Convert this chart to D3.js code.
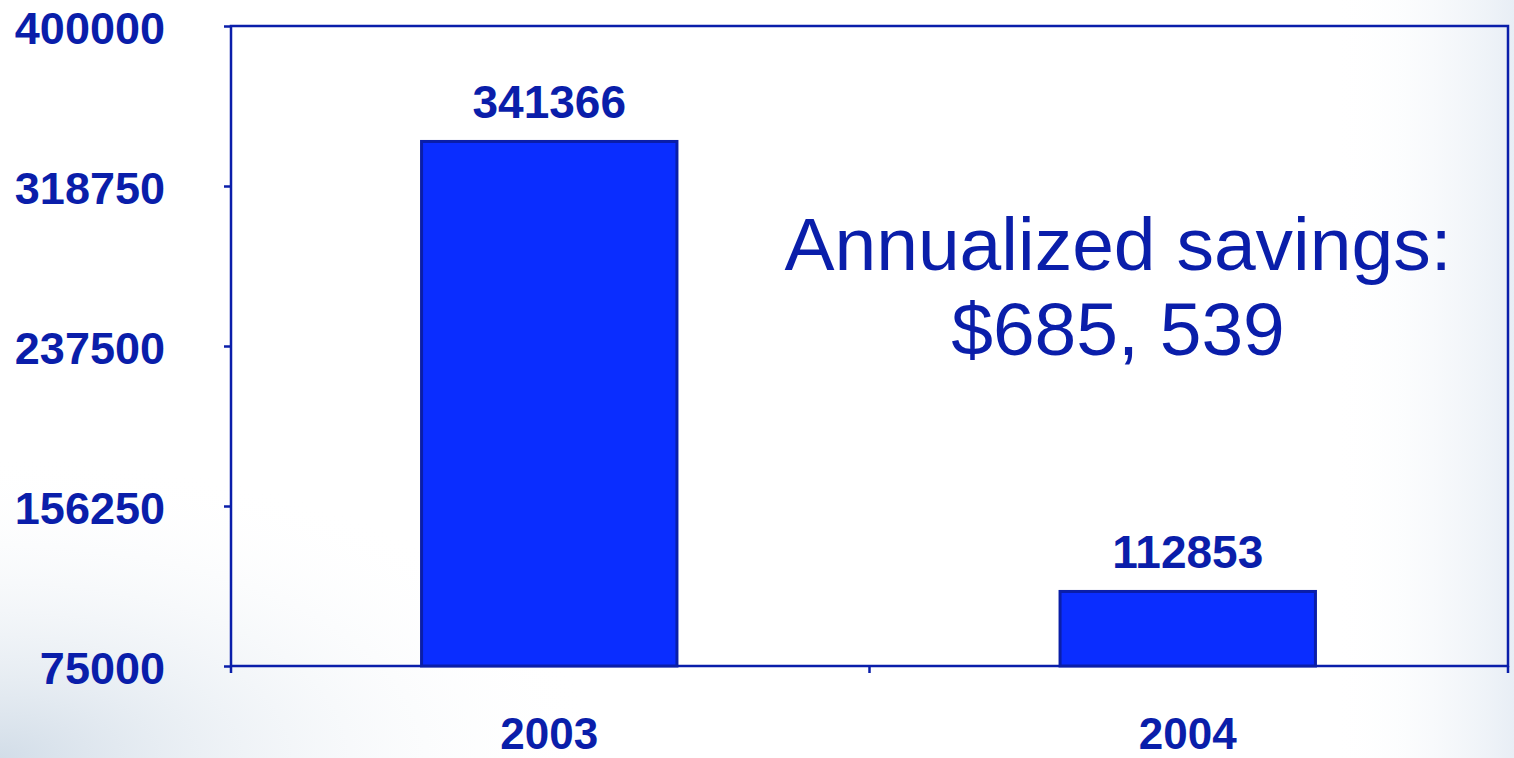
<!DOCTYPE html>
<html lang="en">
<head>
  <meta charset="UTF-8">
  <title>Annualized savings</title>
  <style>
    html, body { margin: 0; padding: 0; background: #fff; overflow: hidden; }
    svg { display: block; font-family: "Liberation Sans", Arial, sans-serif; }
  </style>
</head>
<body>
  <svg></svg>
  <script src="https://cdn.jsdelivr.net/npm/d3@7"></script>
  <script>
    const years = ["2003", "2004"]
    const costs = [341366, 112853]
    const yTicks = [75000, 156250, 237500, 318750, 400000]
    const noteLines = ["Annualized savings:", "$685, 539"]

    const width = 1514
    const height = 758
    const margin = {top: 26, right: 6, bottom: 92, left: 231}
    const ink = "#0a1eaa"

    const svg = d3.select("svg")
      .attr("width", width)
      .attr("height", height)

    // soft backdrop like the slide background
    const defs = svg.append("defs")
    const g1 = defs.append("radialGradient").attr("id", "corner")
      .attr("cx", "0%").attr("cy", "100%").attr("r", "40%")
    g1.append("stop").attr("offset", "0%").attr("stop-color", "#d2dde8")
    g1.append("stop").attr("offset", "100%").attr("stop-color", "#ffffff").attr("stop-opacity", 0)
    const g2 = defs.append("linearGradient").attr("id", "edge")
      .attr("x1", "0%").attr("x2", "100%")
    g2.append("stop").attr("offset", "88%").attr("stop-color", "#ffffff").attr("stop-opacity", 0)
    g2.append("stop").attr("offset", "100%").attr("stop-color", "#e8eef5")
    svg.append("rect").attr("width", width).attr("height", height).attr("fill", "#fff")
    svg.append("rect").attr("width", width).attr("height", height).attr("fill", "url(#corner)")
    svg.append("rect").attr("width", width).attr("height", height).attr("fill", "url(#edge)")

    const x = d3.scaleBand()
      .domain(years)
      .range([margin.left, width - margin.right])
      .paddingInner(0.6)
      .paddingOuter(0.3)

    const y = d3.scaleLinear()
      .domain([75000, 400000])
      .range([height - margin.bottom, margin.top])

    // plot frame
    svg.append("rect")
      .attr("x", margin.left)
      .attr("y", margin.top)
      .attr("width", width - margin.right - margin.left)
      .attr("height", height - margin.bottom - margin.top)
      .attr("fill", "none")
      .attr("stroke", ink)
      .attr("stroke-width", 2.5)

    svg.selectAll(".bar")
      .data(years)
      .join("rect")
      .attr("class", "bar")
      .attr("x", d => x(d) - 1)
      .attr("y", (d, i) => y(costs[i]))
      .attr("width", x.bandwidth())
      .attr("height", (d, i) => y(75000) - y(costs[i]))
      .attr("fill", "#0a2dff")
      .attr("stroke", "#0a1ea8")
      .attr("stroke-width", 3)

    svg.selectAll(".val")
      .data(years)
      .join("text")
      .attr("class", "val")
      .attr("x", d => x(d) + x.bandwidth() / 2 - 1)
      .attr("y", (d, i) => y(costs[i]) - 23)
      .attr("text-anchor", "middle")
      .attr("font-size", 46)
      .attr("font-weight", "bold")
      .attr("fill", ink)
      .text((d, i) => costs[i])

    const yAxis = svg.append("g")
      .attr("transform", `translate(${margin.left}, 0)`)
      .call(d3.axisLeft(y).tickValues(yTicks).tickFormat(d => d).tickSize(7).tickPadding(59))
    yAxis.select(".domain").remove()
    yAxis.selectAll("line").attr("stroke", ink).attr("stroke-width", 2.5)
    yAxis.selectAll("text")
      .attr("font-size", 45)
      .attr("font-weight", "bold")
      .attr("font-family", "Liberation Sans, Arial, sans-serif")
      .attr("fill", ink)
      .attr("dy", "0.38em")

    // category axis: ticks at band edges
    const base = height - margin.bottom
    const edges = [margin.left, (margin.left + width - margin.right) / 2, width - margin.right]
    svg.selectAll(".xtick")
      .data(edges)
      .join("line")
      .attr("class", "xtick")
      .attr("x1", d => d).attr("x2", d => d)
      .attr("y1", base).attr("y2", base + 7)
      .attr("stroke", ink)
      .attr("stroke-width", 2.5)

    svg.selectAll(".xlab")
      .data(years)
      .join("text")
      .attr("class", "xlab")
      .attr("x", d => x(d) + x.bandwidth() / 2 - 1)
      .attr("y", base + 83)
      .attr("text-anchor", "middle")
      .attr("font-size", 44)
      .attr("font-weight", "bold")
      .attr("fill", ink)
      .text(d => d)

    svg.selectAll(".note")
      .data(noteLines)
      .join("text")
      .attr("class", "note")
      .attr("x", 1118)
      .attr("y", (d, i) => 270 + i * 85)
      .attr("text-anchor", "middle")
      .attr("font-size", 75)
      .attr("fill", ink)
      .text(d => d)
  </script>
</body>
</html>
